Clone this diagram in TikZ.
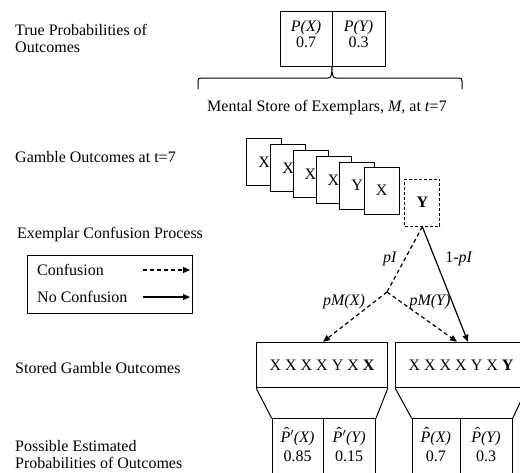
\documentclass[tikz,border=0pt]{standalone}
\usepackage{fix-cm}
\usepackage{fontspec}
\setmainfont{Liberation Serif}
\usetikzlibrary{arrows.meta}
\newcommand{\hatP}{\leavevmode\rlap{\hspace{0.22em}\raisebox{0.2em}{ˆ}}\textit{P}}
\tikzset{
  lbl/.style={anchor=west, align=left, inner sep=0pt},
  plain/.style={inner sep=0pt},
  card/.style={draw, fill=white, line width=1pt, minimum width=35pt, minimum height=47pt, inner sep=0pt},
  dcard/.style={card, dash pattern=on 3pt off 2pt},
  cell/.style={draw, line width=1pt, inner sep=0pt},
  tip/.style={-{Triangle[length=7pt,width=6pt]}},
  conf/.style={line width=1.2pt, dash pattern=on 4pt off 3pt, tip},
  noconf/.style={line width=1.2pt, tip},
}
\begin{document}
\begin{tikzpicture}[x=1pt,y=-1pt,font=\fontsize{16}{17}\selectfont]
\clip (0,0) rectangle (520,472);
\fill[white] (0,0) rectangle (520,472);

% left labels
\node[lbl] (l1) at (15,38) {True Probabilities of\\Outcomes};
\node[lbl] (l2) at (15,157) {Gamble Outcomes at t=7};
\node[lbl] (l3) at (17,235) {Exemplar Confusion Process};
\node[lbl] (l4) at (15,368) {Stored Gamble Outcomes};
\node[lbl] (l5) at (15,455) {Possible Estimated\\Probabilities of Outcomes};

% true probabilities box
\node[cell, minimum width=52pt, minimum height=55pt] (px) at (306,38.5) {};
\node[cell, minimum width=53pt, minimum height=55pt] (py) at (358.5,38.5) {};
\node[plain, align=center, font=\fontsize{16}{16}\selectfont] (pxt) at (306,34) {\textit{P(X)}\\0.7};
\node[plain, align=center, font=\fontsize{16}{16}\selectfont] (pyt) at (358.5,34) {\textit{P(Y)}\\0.3};

% brace
\draw[line width=1pt] (198,89) -- (198,81) .. controls (198,79) and (199,78) .. (201,78) -- (328,78)
  .. controls (331,78) and (332,76) .. (332,66)
  .. controls (332,76) and (333,78) .. (336,78) -- (459,78)
  .. controls (461,78) and (462,79) .. (462,81) -- (462,89);
\node[plain] (mstore) at (327,108) {Mental Store of Exemplars, \textit{M}, at \textit{t}=7};

% cards
\node[card] (c1) at (264.2,162.3) {X};
\node[card] (c2) at (288.2,168.3) {X};
\node[card] (c3) at (310.5,173.8) {X};
\node[card] (c4) at (333.5,179.8) {X};
\node[card] (c5) at (357.2,185.7) {Y};
\node[card] (c6) at (381.7,190.5) {X};
\node[dcard] (c7) at (422.3,202.7) {\textbf{Y}};

% legend
\node[draw, line width=1pt, minimum width=165pt, minimum height=58pt, inner sep=0pt] (legend) at (109.5,284) {};
\node[lbl] (lc) at (37,270) {Confusion};
\node[lbl] (lnc) at (37,297) {No Confusion};
\coordinate (ca) at (143,270);
\coordinate (cb) at (190,270);
\coordinate (na) at (143,297);
\coordinate (nb) at (190,297);
\draw[conf] (ca) -- (cb);
\draw[noconf] (na) -- (nb);

% stored boxes
\node[cell, minimum width=130.6pt, minimum height=45.4pt] (stL) at (322,365) {X X X X Y X \textbf{X}};
\node[cell, minimum width=130.6pt, minimum height=45.4pt] (stR) at (461,365) {X X X X Y X \textbf{Y}};

% estimated probability cells
\node[cell, anchor=north west, minimum width=51.6pt, minimum height=62pt] (eLa) at (271.7,418.3) {};
\node[cell, anchor=north west, minimum width=51.7pt, minimum height=62pt] (eLb) at (323.3,418.3) {};
\node[cell, anchor=north west, minimum width=48.3pt, minimum height=62pt] (eRa) at (411.7,418.3) {};
\node[cell, anchor=north west, minimum width=51.7pt, minimum height=62pt] (eRb) at (460,418.3) {};
\draw[line width=1pt] (stL.south west) -- (eLa.north west);
\draw[line width=1pt] (stL.south east) -- (eLb.north east);
\draw[line width=1pt] (stR.south west) -- (eRa.north west);
\draw[line width=1pt] (stR.south east) -- (eRb.north east);
\node[plain, align=center, font=\fontsize{16}{19}\selectfont] (tLa) at (297.5,444.5) {\hatP$'$\textit{(X)}\\0.85};
\node[plain, align=center, font=\fontsize{16}{19}\selectfont] (tLb) at (349.2,444.5) {\hatP$'$\textit{(Y)}\\0.15};
\node[plain, align=center, font=\fontsize{16}{19}\selectfont] (tRa) at (435.8,444.5) {\hatP\textit{(X)}\\0.7};
\node[plain, align=center, font=\fontsize{16}{19}\selectfont] (tRb) at (486,444.5) {\hatP\textit{(Y)}\\0.3};

% confusion process arrows
\coordinate (jn) at (387,292);
\draw[line width=1.2pt, dash pattern=on 4pt off 3pt] (c7.south) -- (jn);
\draw[conf] (jn) -- ([xshift=1pt]stL.north);
\draw[conf] (jn) -- ([xshift=-4pt]stR.north);
\draw[noconf] (c7.south) -- ([xshift=7pt]stR.north);

\node[plain] (lpi) at (390,259) {\textit{pI}};
\node[plain] (l1pi) at (459,259) {1-\textit{pI}};
\node[plain] (lpmx) at (344,302) {\textit{pM(X)}};
\node[plain] (lpmy) at (430,302) {\textit{pM(Y)}};
\end{tikzpicture}
\end{document}
